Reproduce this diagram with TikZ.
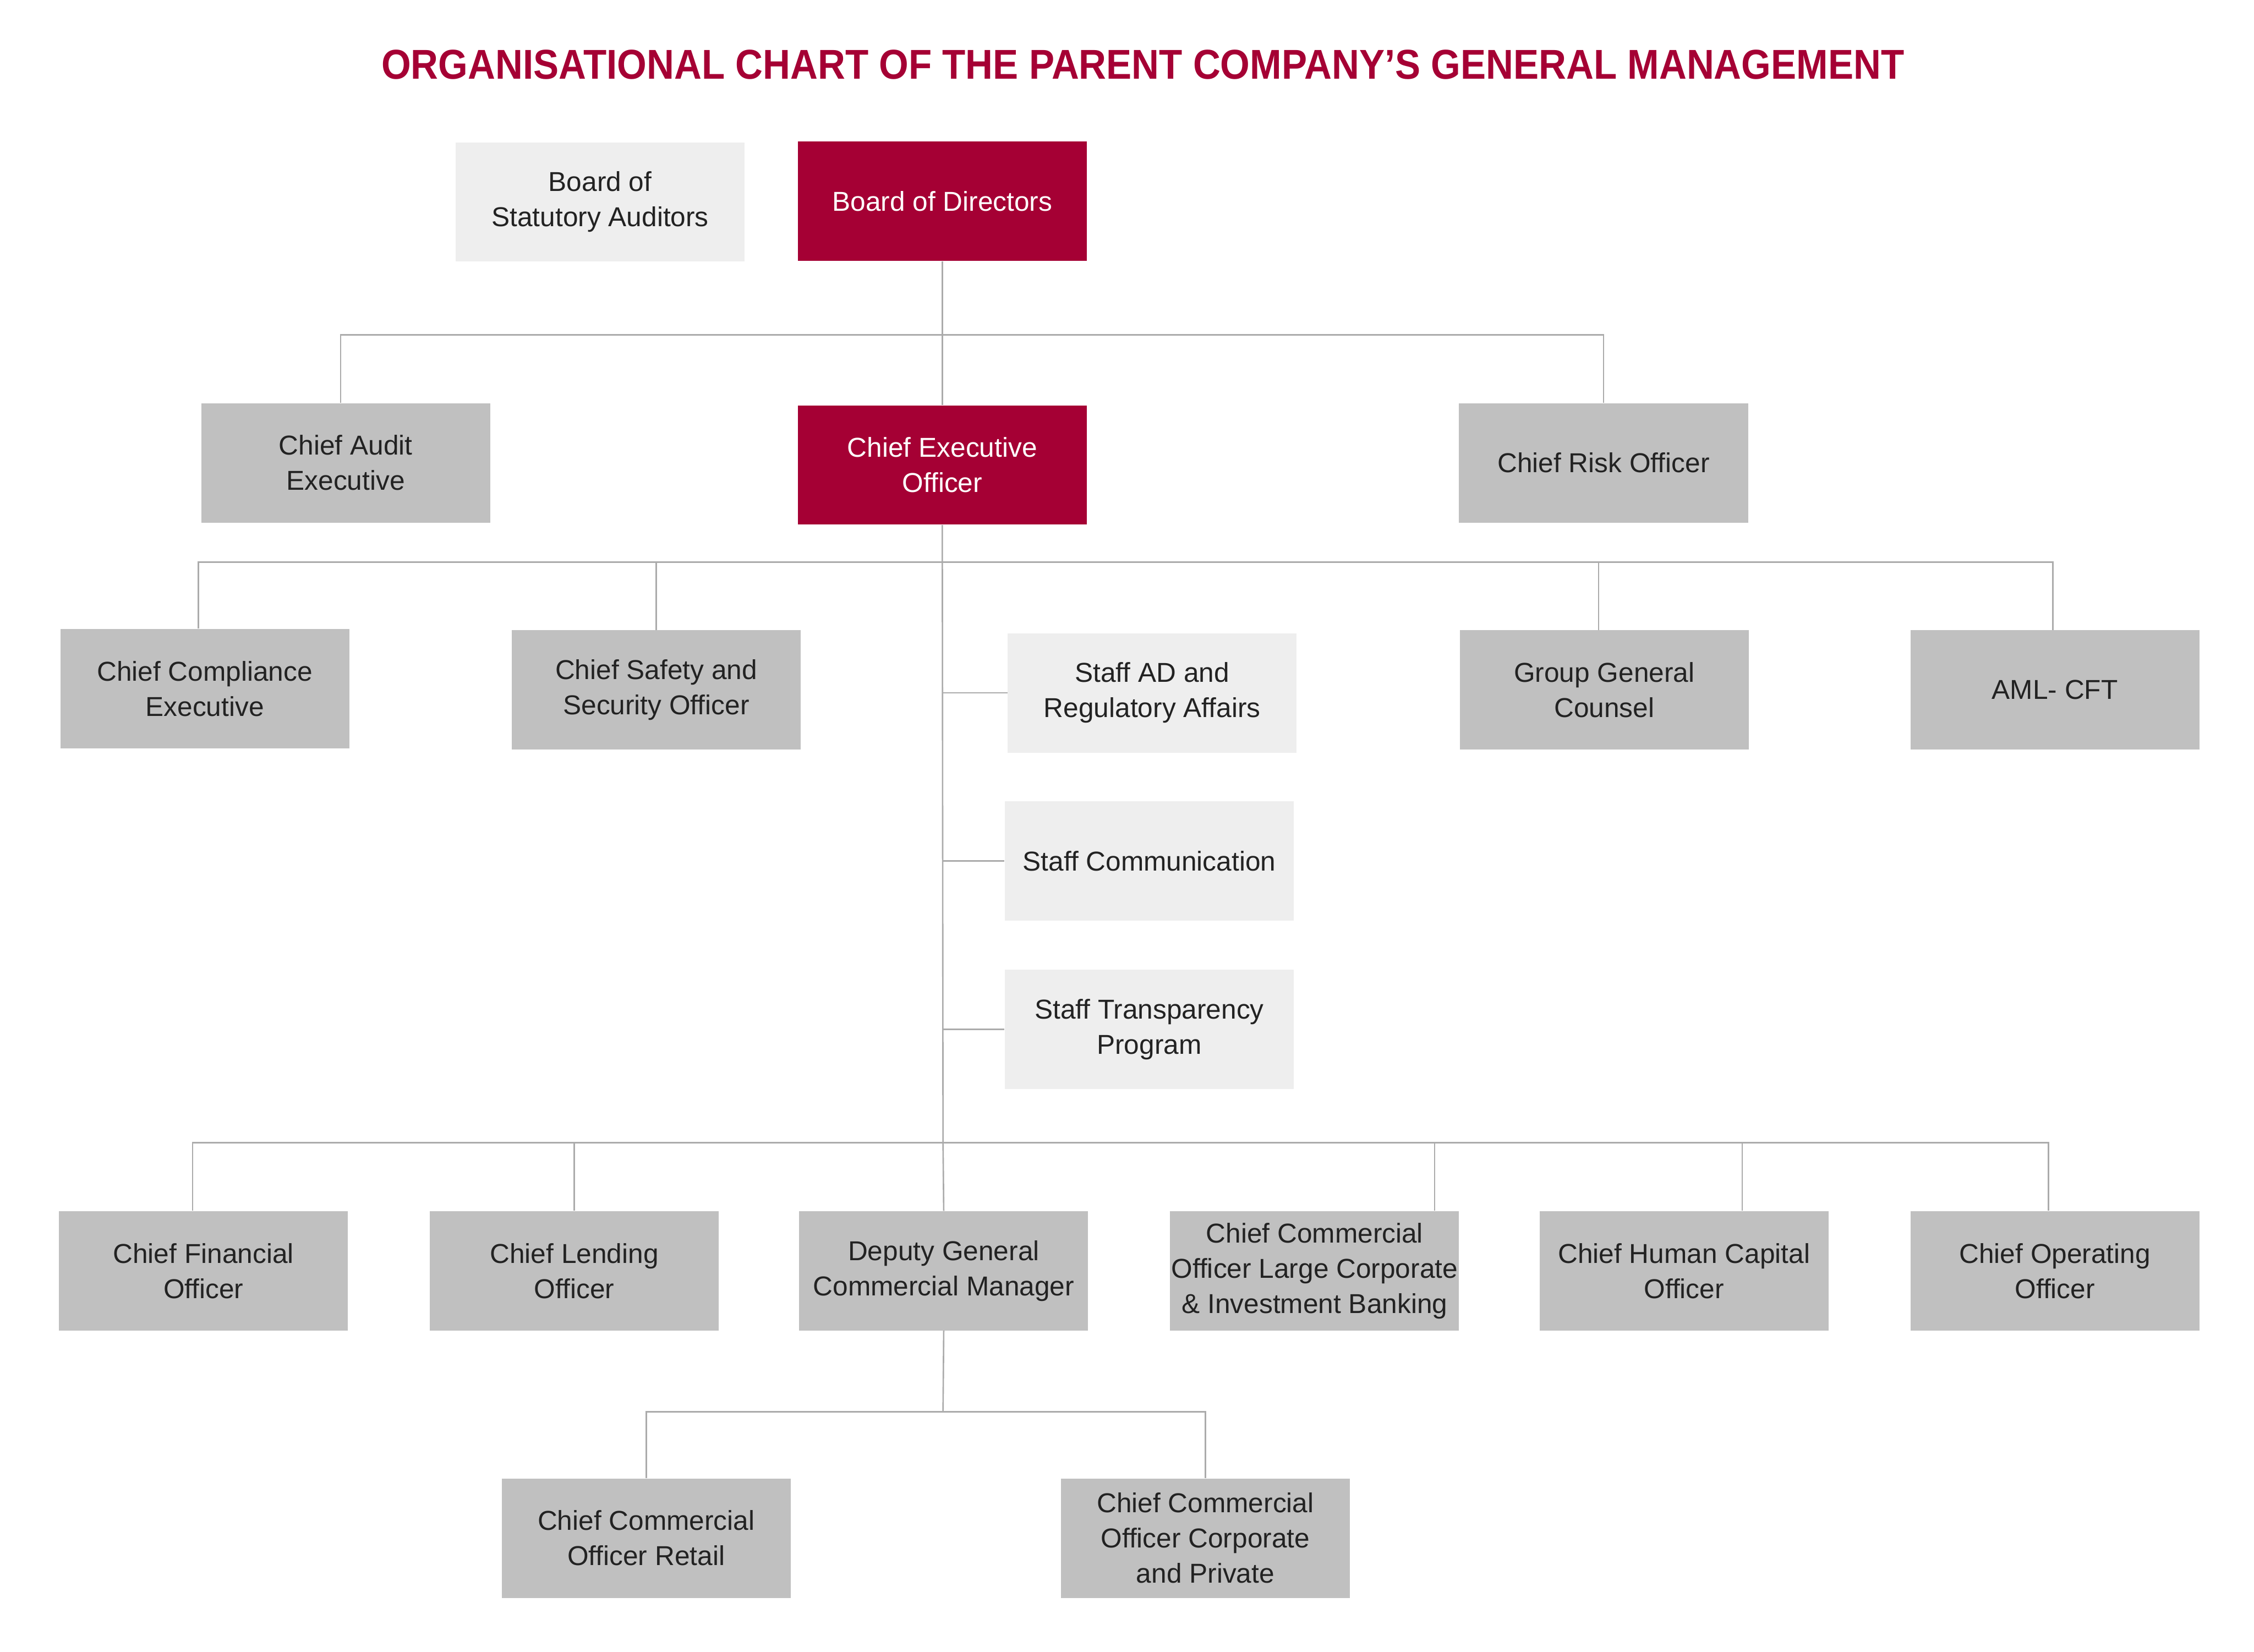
\documentclass[tikz,border=0pt]{standalone}
\usepackage{fontspec}
\setmainfont{Liberation Sans}
\definecolor{crim}{HTML}{A50034}
\definecolor{boxgray}{HTML}{C0C0C0}
\definecolor{boxlight}{HTML}{EEEEEE}
\definecolor{linegray}{HTML}{ABABAB}
\definecolor{txt}{HTML}{222222}
\begin{document}
\begin{tikzpicture}[x=1pt,y=-1pt,
  orgbox/.style={rectangle, minimum width=201pt, minimum height=83pt, inner sep=0pt, align=center,
    font=\fontsize{19}{24.5}\selectfont, text=txt},
  graybox/.style={orgbox, fill=boxgray},
  lightbox/.style={orgbox, fill=boxlight},
  redbox/.style={orgbox, fill=crim, text=white},
  conn/.style={draw=linegray, line width=1pt}]
\fill[white] (0,0) rectangle (1568,1149);
\useasboundingbox (0,0) rectangle (1568,1149);

\node[font=\fontsize{29}{34}\selectfont\bfseries, text=crim, inner sep=0pt] (title) at (795,45) {\scalebox{0.912}[1]{ORGANISATIONAL CHART OF THE PARENT COMPANY’S GENERAL MANAGEMENT}};

\node[lightbox] (bsa) at (417.5,140.5) {Board of\\Statutory Auditors};
\node[redbox] (bod) at (655.5,140) {Board of Directors};

\node[graybox] (cae) at (240.5,322) {Chief Audit\\Executive};
\node[redbox] (ceo) at (655.5,323.5) {Chief Executive\\Officer};
\node[graybox] (cro) at (1115.5,322) {Chief Risk Officer};

\node[graybox] (cce) at (142.5,479) {Chief Compliance\\Executive};
\node[graybox] (cso) at (456.5,480) {Chief Safety and\\Security Officer};
\node[lightbox] (sad) at (801.5,482) {Staff AD and\\Regulatory Affairs};
\node[graybox] (ggc) at (1116,480) {Group General\\Counsel};
\node[graybox] (aml) at (1429.5,480) {AML- CFT};

\node[lightbox] (scom) at (799.5,599) {Staff Communication};
\node[lightbox] (stp) at (799.5,716) {Staff Transparency\\Program};

\node[graybox] (cfo) at (141.5,884) {Chief Financial\\Officer};
\node[graybox] (clo) at (399.5,884) {Chief Lending\\Officer};
\node[graybox] (dgc) at (656.5,884) {Deputy General\\Commercial Manager};
\node[graybox] (ccl) at (914.5,884) {Chief Commercial\\Officer Large Corporate\\\& Investment Banking};
\node[graybox] (chc) at (1171.5,884) {Chief Human Capital\\Officer};
\node[graybox] (coo) at (1429.5,884) {Chief Operating\\Officer};

\node[graybox] (ccr) at (449.5,1070) {Chief Commercial\\Officer Retail};
\node[graybox] (ccp) at (838.5,1070) {Chief Commercial\\Officer Corporate\\and Private};

% top level
\coordinate (b1) at (656,233);
\draw[conn] (bod.south) -- (ceo.north);
\draw[conn] ([xshift=-3.5pt]cae.north) |- (b1) -| (cro.north);

% CEO level
\coordinate (b2) at (656,391);
\coordinate (b3) at (656,795);
\draw[conn] (ceo.south) -- (b3) -- (dgc.north);
\draw[conn] ([xshift=-4.5pt]cce.north) |- (b2) -| ([xshift=-1.5pt]aml.north);
\draw[conn] (cso.north) -- (cso.north |- b2);
\draw[conn] ([xshift=-4pt]ggc.north) -- ([xshift=-4pt]ggc.north |- b2);

% staff
\draw[conn] (sad.west -| b2) -- (sad.west);
\draw[conn] (scom.west -| b2) -- (scom.west);
\draw[conn] (stp.west -| b2) -- (stp.west);

% bottom bus
\draw[conn] ([xshift=-7.5pt]cfo.north) |- (b3) -| ([xshift=-4.5pt]coo.north);
\draw[conn] (clo.north) -- (clo.north |- b3);
\draw[conn] ([xshift=83.5pt]ccl.north) -- ([xshift=83.5pt]ccl.north |- b3);
\draw[conn] ([xshift=40.5pt]chc.north) -- ([xshift=40.5pt]chc.north |- b3);

% deputy children
\coordinate (b4) at (656,982);
\draw[conn] (dgc.south) -- (b4);
\draw[conn] (ccr.north) |- (b4) -| (ccp.north);
\end{tikzpicture}
\end{document}
